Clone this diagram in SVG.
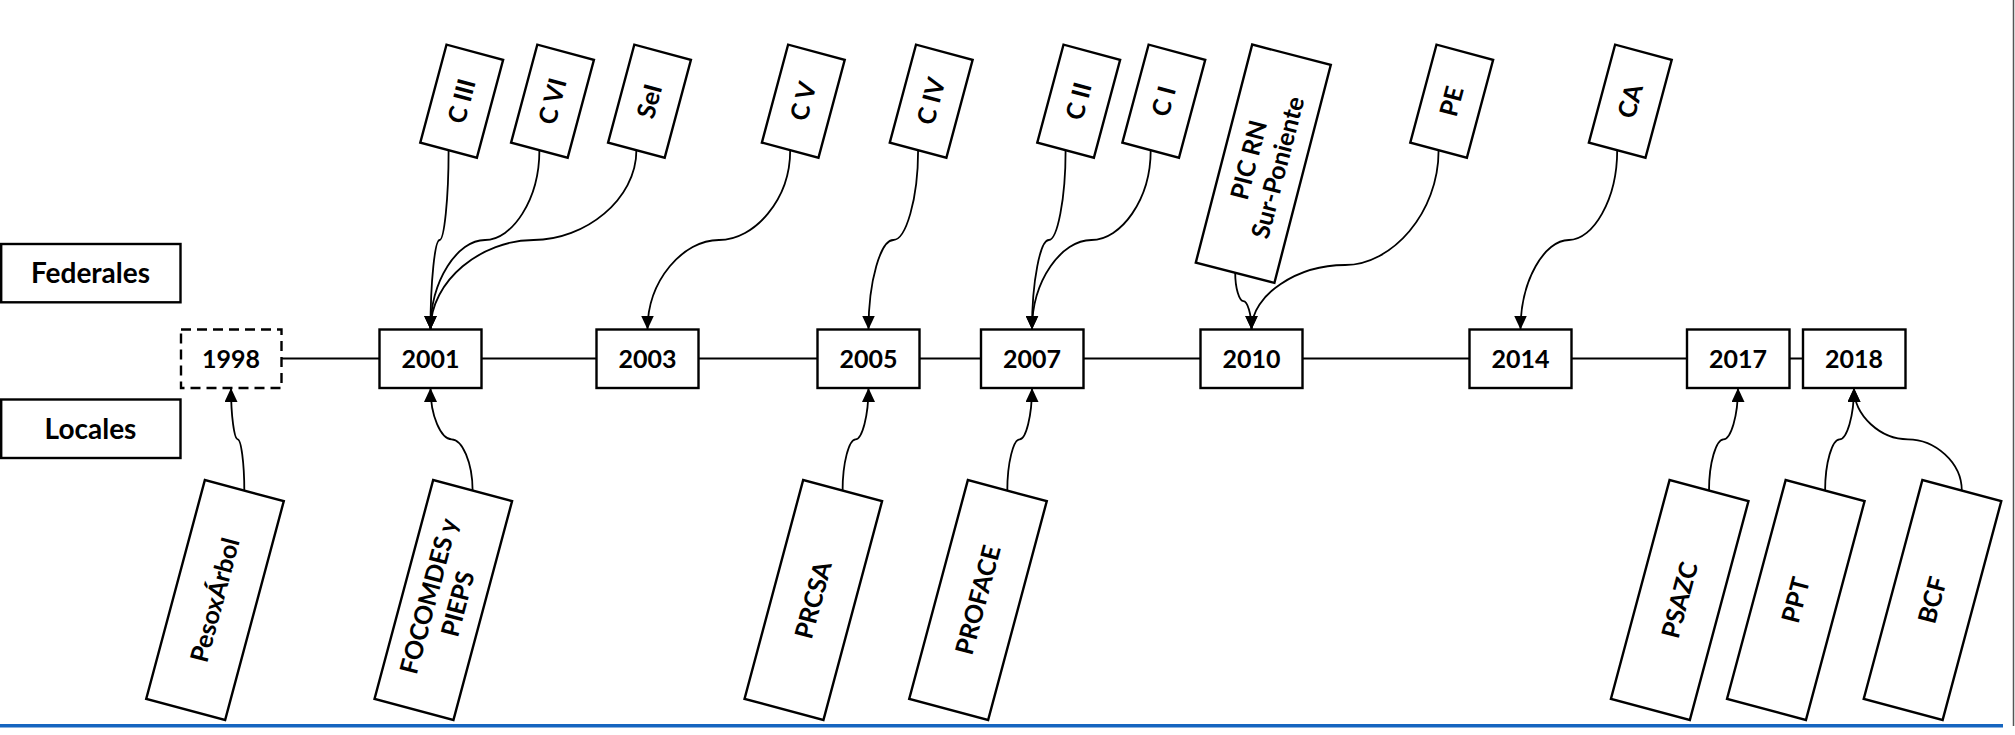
<svg xmlns="http://www.w3.org/2000/svg" width="2015" height="735" viewBox="0 0 2015 735">
<style>
.box{fill:#fff;stroke:#000;stroke-width:2.4}
.dash{stroke-dasharray:10 6}
.t{font-family:Lato,"Open Sans","Liberation Sans",sans-serif;font-weight:700;font-size:25px;text-anchor:middle;fill:#000}
.big{font-size:28px}
.conn path{fill:none;stroke:#000;stroke-width:1.8;marker-end:url(#arr)}
.tl{stroke:#000;stroke-width:2}
</style>
<defs>
<marker id="arr" markerUnits="userSpaceOnUse" markerWidth="14" markerHeight="13" refX="14" refY="6.5" orient="auto" viewBox="0 0 14 13"><path d="M0,0 L14,6.5 L0,13 z" fill="#000"/></marker>
<rect id="topbox" class="box" x="-29.3" y="-50.7" width="58.6" height="101.4"/>
<rect id="botbox" class="box" x="-40.85" y="-113.3" width="81.7" height="226.6"/>
</defs>
<rect width="2015" height="735" fill="#fff"/>
<line x1="2013.5" y1="0" x2="2013.5" y2="726" stroke="#555" stroke-width="1.5"/>
<rect x="0" y="724" width="2003" height="3.5" fill="#1565c0"/>

<g id="legend-federales"><rect class="box" x="1.2" y="244" width="179.3" height="58.3"/><text class="t big" x="90.5" y="273.2" dy="0.35em">Federales</text></g>
<g id="legend-locales"><rect class="box" x="1.2" y="399.5" width="179.3" height="58.5"/><text class="t big" x="90.5" y="428.7" dy="0.35em">Locales</text></g>

<line class="tl" x1="281" y1="358.5" x2="1803" y2="358.5"/>

<g id="y1998"><rect class="box dash" x="181" y="329.5" width="100.5" height="58.5"/><text class="t" x="231" y="358.75" dy="0.35em">1998</text></g>
<g id="y2001"><rect class="box" x="379.5" y="329.5" width="102" height="58.5"/><text class="t" x="430.5" y="358.75" dy="0.35em">2001</text></g>
<g id="y2003"><rect class="box" x="596.5" y="329.5" width="102" height="58.5"/><text class="t" x="647.5" y="358.75" dy="0.35em">2003</text></g>
<g id="y2005"><rect class="box" x="817.5" y="329.5" width="102" height="58.5"/><text class="t" x="868.5" y="358.75" dy="0.35em">2005</text></g>
<g id="y2007"><rect class="box" x="981" y="329.5" width="102.5" height="58.5"/><text class="t" x="1032" y="358.75" dy="0.35em">2007</text></g>
<g id="y2010"><rect class="box" x="1200.5" y="329.5" width="102" height="58.5"/><text class="t" x="1251.5" y="358.75" dy="0.35em">2010</text></g>
<g id="y2014"><rect class="box" x="1469.5" y="329.5" width="102" height="58.5"/><text class="t" x="1520.5" y="358.75" dy="0.35em">2014</text></g>
<g id="y2017"><rect class="box" x="1687" y="329.5" width="102.5" height="58.5"/><text class="t" x="1738" y="358.75" dy="0.35em">2017</text></g>
<g id="y2018"><rect class="box" x="1803" y="329.5" width="102.5" height="58.5"/><text class="t" x="1854" y="358.75" dy="0.35em">2018</text></g>

<g id="connectors" class="conn">
<path d="M448.6,150.2 C448.6,199.6 444.1,240 439.6,240 C435,240 430.5,280.3 430.5,329.5"/>
<path d="M539.4,150.2 C539.4,199.6 512.2,240 485,240 C457.7,240 430.5,280.3 430.5,329.5"/>
<path d="M636.4,150.2 C636.4,199.6 584.9,240 533.5,240 C482,240 430.5,280.3 430.5,329.5"/>
<path d="M790.2,150.2 C790.2,199.6 754.5,240 718.9,240 C683.2,240 647.5,280.3 647.5,329.5"/>
<path d="M918.1,150.2 C918.1,199.6 905.7,240 893.3,240 C880.9,240 868.5,280.3 868.5,329.5"/>
<path d="M1065.6,150.2 C1065.6,199.6 1057.2,240 1048.8,240 C1040.4,240 1032,280.3 1032,329.5"/>
<path d="M1150.7,150.2 C1150.7,199.6 1121,240 1091.4,240 C1061.7,240 1032,280.3 1032,329.5"/>
<path d="M1235.2,272.7 C1235.2,288.3 1239.3,301.1 1243.4,301.1 C1247.4,301.1 1251.5,313.9 1251.5,329.5"/>
<path d="M1438.6,150.2 C1438.6,213.3 1391.8,265 1345.1,265 C1298.3,265 1251.5,294 1251.5,329.5"/>
<path d="M1617.2,150.2 C1617.2,199.6 1593,240 1568.9,240 C1544.7,240 1520.5,280.3 1520.5,329.5"/>
<path d="M244.3,490.6 C244.3,462.4 241,439.3 237.7,439.3 C234.3,439.3 231,416.2 231,388"/>
<path d="M472.6,490.6 C472.6,462.4 462.1,439.3 451.6,439.3 C441,439.3 430.5,416.2 430.5,388"/>
<path d="M842.6,490.6 C842.6,462.4 849.1,439.3 855.6,439.3 C862,439.3 868.5,416.2 868.5,388"/>
<path d="M1007.3,490.6 C1007.3,462.4 1013.5,439.3 1019.7,439.3 C1025.8,439.3 1032,416.2 1032,388"/>
<path d="M1709,490.6 C1709,462.4 1716.3,439.3 1723.5,439.3 C1730.8,439.3 1738,416.2 1738,388"/>
<path d="M1825.1,490.6 C1825.1,462.4 1832.3,439.3 1839.6,439.3 C1846.8,439.3 1854,416.2 1854,388"/>
<path d="M1961.8,490.6 C1961.8,462.4 1934.9,439.3 1907.9,439.3 C1881,439.3 1854,416.2 1854,388"/>
</g>

<g id="cIII" transform="translate(461.7,101.2) rotate(15)"><use href="#topbox"/><text class="t" transform="rotate(-90)" dy="0.35em">C III</text></g>
<g id="cVI" transform="translate(552.5,101.2) rotate(15)"><use href="#topbox"/><text class="t" transform="rotate(-90)" dy="0.35em">C VI</text></g>
<g id="sei" transform="translate(649.5,101.2) rotate(15)"><use href="#topbox"/><text class="t" transform="rotate(-90)" dy="0.35em">SeI</text></g>
<g id="cV" transform="translate(803.3,101.2) rotate(15)"><use href="#topbox"/><text class="t" transform="rotate(-90)" dy="0.35em">C V</text></g>
<g id="cIV" transform="translate(931.2,101.2) rotate(15)"><use href="#topbox"/><text class="t" transform="rotate(-90)" dy="0.35em">C IV</text></g>
<g id="cII" transform="translate(1078.7,101.2) rotate(15)"><use href="#topbox"/><text class="t" transform="rotate(-90)" dy="0.35em">C II</text></g>
<g id="cI" transform="translate(1163.8,101.2) rotate(15)"><use href="#topbox"/><text class="t" transform="rotate(-90)" dy="0.35em">C I</text></g>
<g id="picrn" transform="translate(1263.3,163.7) rotate(14.5)"><rect class="box" x="-40.6" y="-112.6" width="81.2" height="225.2"/><text class="t" transform="rotate(-90)"><tspan x="0" y="-15" dy="0.35em">PIC RN</tspan><tspan x="0" y="15" dy="0.35em">Sur-Poniente</tspan></text></g>
<g id="pe" transform="translate(1451.7,101.2) rotate(15)"><use href="#topbox"/><text class="t" transform="rotate(-90)" dy="0.35em">PE</text></g>
<g id="ca" transform="translate(1630.3,101.2) rotate(15)"><use href="#topbox"/><text class="t" transform="rotate(-90)" dy="0.35em">CA</text></g>

<g id="pesoxarbol" transform="translate(215,600) rotate(15)"><use href="#botbox"/><text class="t" transform="rotate(-90)" dy="0.35em">PesoxÁrbol</text></g>
<g id="focomdes" transform="translate(443.3,600) rotate(15)"><use href="#botbox"/><text class="t" transform="rotate(-90)"><tspan x="0" y="-15" dy="0.35em">FOCOMDES y</tspan><tspan x="0" y="15" dy="0.35em">PIEPS</tspan></text></g>
<g id="prcsa" transform="translate(813.3,600) rotate(15)"><use href="#botbox"/><text class="t" transform="rotate(-90)" dy="0.35em">PRCSA</text></g>
<g id="proface" transform="translate(978,600) rotate(15)"><use href="#botbox"/><text class="t" transform="rotate(-90)" dy="0.35em">PROFACE</text></g>
<g id="psazc" transform="translate(1679.7,600) rotate(15)"><use href="#botbox"/><text class="t" transform="rotate(-90)" dy="0.35em">PSAZC</text></g>
<g id="ppt" transform="translate(1795.8,600) rotate(15)"><use href="#botbox"/><text class="t" transform="rotate(-90)" dy="0.35em">PPT</text></g>
<g id="bcf" transform="translate(1932.5,600) rotate(15)"><use href="#botbox"/><text class="t" transform="rotate(-90)" dy="0.35em">BCF</text></g>
</svg>
